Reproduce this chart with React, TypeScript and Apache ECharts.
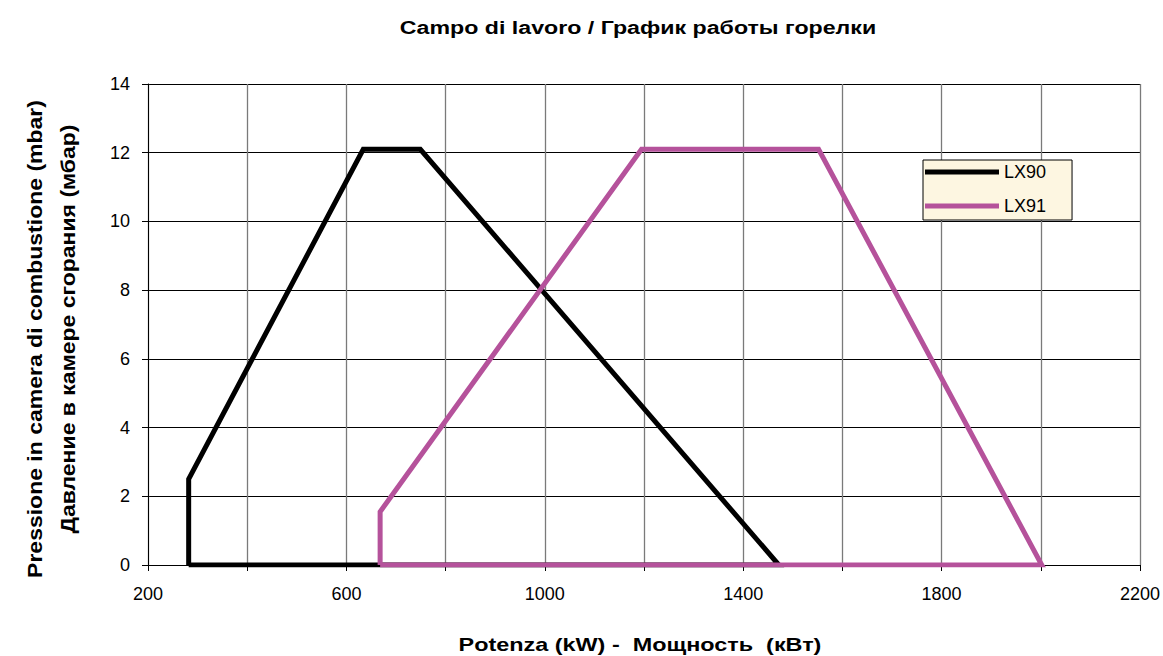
import React, { useEffect, useRef } from "react";
import * as echarts from "echarts";

const titleText = "Campo di lavoro / График работы горелки";
const xName = "Potenza (kW) -  Мощность  (кВт)";
const yName1 = "Pressione in camera di combustione (mbar)";
const yName2 = "Давление в камере сгорания (мбар)";

const seriesNames = ["LX90", "LX91"];
const seriesColors = ["#000000", "#b5529b"];

const lx90X = [282, 282, 634, 749, 1472, 282];
const lx90Y = [0, 2.5, 12.1, 12.1, 0, 0];
const lx91X = [668, 668, 1195, 1552, 2002, 668];
const lx91Y = [0, 1.55, 12.1, 12.1, 0, 0];

const xMin = 200, xMax = 2200, xInterval = 200;
const yMin = 0, yMax = 14, yInterval = 2;

export default function App() {
  const ref = useRef<HTMLDivElement>(null);
  useEffect(() => {
    if (!ref.current) return;
    const chart = echarts.init(ref.current, undefined, { renderer: "svg" });
    const font = "'Liberation Sans', Arial, sans-serif";
    const toPts = (xs: number[], ys: number[]) => xs.map((x, i) => [x, ys[i]]);
    const label = (text: string, x: number, y: number, size: number, sx: number, rot = 0) => ({
      type: "text",
      x,
      y,
      rotation: rot,
      scaleX: sx,
      style: {
        text,
        font: `bold ${size}px ${font}`,
        fill: "#000",
        align: "center",
        verticalAlign: "middle",
      },
    });
    chart.setOption({
      animation: false,
      backgroundColor: "#ffffff",
      textStyle: { fontFamily: font },
      grid: { left: 148, right: 20, top: 84, bottom: 91 },
      legend: {
        orient: "vertical",
        left: 923,
        top: 160,
        padding: [3, 26, 5, 2],
        itemGap: 16,
        itemWidth: 74,
        itemHeight: 5,
        backgroundColor: "#fdf6e1",
        borderColor: "#000",
        borderWidth: 1,
        borderRadius: 0,
        textStyle: { fontSize: 18, color: "#000", fontFamily: font, padding: [0, 0, 0, 0] },
        data: seriesNames.map((n) => ({ name: n, icon: "rect" })),
        itemStyle: { borderWidth: 0 },
      },
      xAxis: {
        type: "value",
        min: xMin,
        max: xMax,
        interval: xInterval,
        axisLine: { show: true, lineStyle: { color: "#000", width: 1 } },
        axisTick: { show: true, length: 6, lineStyle: { color: "#000" } },
        axisLabel: {
          fontSize: 18,
          color: "#000",
          margin: 20,
          fontFamily: font,
          formatter: (v: number) => ((v - xMin) % 400 === 0 ? String(v) : ""),
        },
        splitLine: { show: true, lineStyle: { color: "#7a7a7a", width: 1.3 } },
      },
      yAxis: {
        type: "value",
        min: yMin,
        max: yMax,
        interval: yInterval,
        axisLine: { show: true, lineStyle: { color: "#000", width: 1 } },
        axisTick: { show: true, inside: false, length: 6, lineStyle: { color: "#000" } },
        axisLabel: { fontSize: 18, color: "#000", margin: 18, fontFamily: font },
        splitLine: { show: true, lineStyle: { color: "#000", width: 1 } },
      },
      graphic: [
        label(titleText, 638, 27, 19, 1.22),
        label(xName, 640, 645, 18, 1.3),
        label(yName1, 35, 339, 20, 1.15, Math.PI / 2),
        label(yName2, 68, 329, 20, 1.15, Math.PI / 2),
      ],
      series: [
        {
          name: seriesNames[0],
          type: "line",
          data: toPts(lx90X, lx90Y),
          symbol: "none",
          lineStyle: { color: seriesColors[0], width: 5, join: "miter" },
          itemStyle: { color: seriesColors[0] },
          z: 3,
        },
        {
          name: seriesNames[1],
          type: "line",
          data: toPts(lx91X, lx91Y),
          symbol: "none",
          lineStyle: { color: seriesColors[1], width: 5, join: "miter" },
          itemStyle: { color: seriesColors[1] },
          z: 4,
        },
      ],
    });
    return () => chart.dispose();
  }, []);
  return <div ref={ref} style={{ width: 1163, height: 656, position: "absolute", left: 0, top: 0 }} />;
}
